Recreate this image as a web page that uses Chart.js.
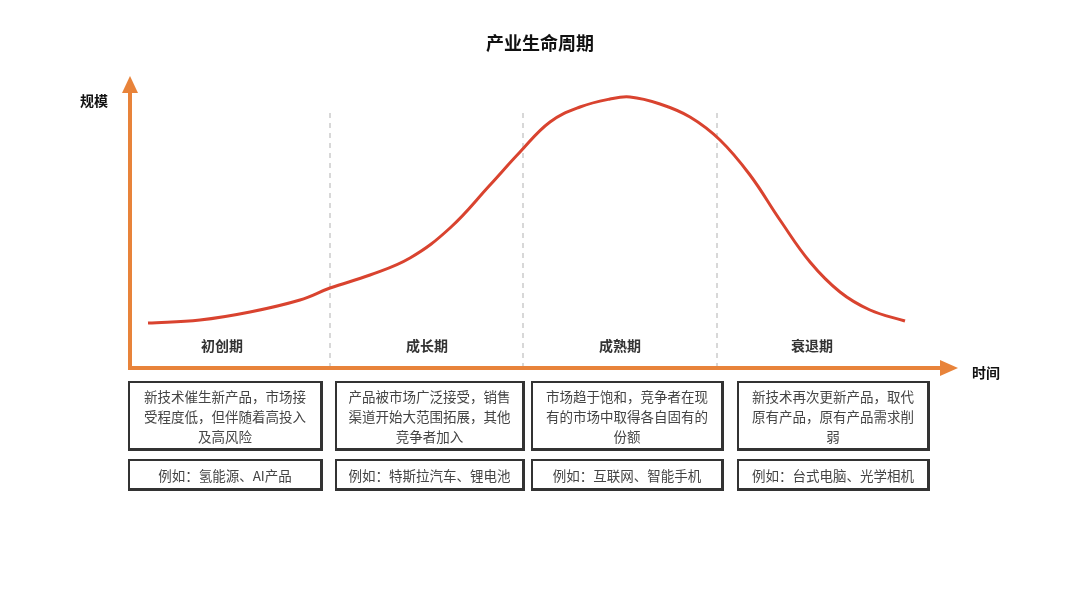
<!DOCTYPE html>
<html><head><meta charset="utf-8">
<script src="https://cdn.jsdelivr.net/npm/chart.js@4"></script>
<style>
  body{margin:0;background:#fff;font-family:"Noto Sans CJK SC",sans-serif;}
  #wrap{position:relative;width:1080px;height:608px;}
  .box{position:absolute;box-sizing:border-box;border:2px solid #333;border-right-width:3px;border-bottom-width:3px;
       color:#444;font-size:13.5px;line-height:20px;text-align:center;display:flex;align-items:center;justify-content:center;padding:0 8px;}
</style></head>
<body><div id="wrap"><canvas id="c" width="1080" height="608"></canvas></div>
<script>
// curve samples: x position along time, y = scale
const curveX = [148,200,250,300,330,370,410,450,490,520,550,580,610,630,660,690,720,750,780,810,840,870,905];
const curveY = [45,48,56,68,80,93,110,140,183,216,246,261,269,271,264,251,228,193,148,106,76,58,47];
const phaseBounds = [330,523,717];
const phaseCenters = [222,427,620,812];
const phaseNames = ['初创期','成长期','成熟期','衰退期'];
const phaseDesc = ['新技术催生新产品，市场接受程度低，但伴随着高投入及高风险','产品被市场广泛接受，销售渠道开始大范围拓展，其他竞争者加入','市场趋于饱和，竞争者在现有的市场中取得各自固有的份额','新技术再次更新产品，取代原有产品，原有产品需求削弱'];
const phaseExample = ['例如：氢能源、AI产品','例如：特斯拉汽车、锂电池','例如：互联网、智能手机','例如：台式电脑、光学相机'];

const boxX = [[128,323],[335,525],[531,724],[737,930]];
const wrap = document.getElementById('wrap');
boxX.forEach((b,i)=>{
  const d = document.createElement('div'); d.className='box';
  d.style.cssText += `left:${b[0]}px;width:${b[1]-b[0]}px;top:381px;height:70px;`;
  d.textContent = phaseDesc[i]; wrap.appendChild(d);
  const e = document.createElement('div'); e.className='box';
  e.style.cssText += `left:${b[0]}px;width:${b[1]-b[0]}px;top:459px;height:32px;`;
  e.textContent = phaseExample[i]; wrap.appendChild(e);
});

const orange = '#e8833a';
const deco = {
  id:'deco',
  beforeDatasetsDraw(ch){
    const {ctx, scales:{x,y}} = ch;
    const x0 = x.getPixelForValue(130), y0 = y.getPixelForValue(0);
    ctx.save();
    ctx.strokeStyle='#ccc'; ctx.lineWidth=1.5; ctx.setLineDash([5,5]);
    phaseBounds.forEach(v=>{const px=x.getPixelForValue(v);ctx.beginPath();ctx.moveTo(px,113);ctx.lineTo(px,y0);ctx.stroke();});
    ctx.setLineDash([]);
    ctx.fillStyle='#333'; ctx.font='bold 14px "Noto Sans CJK SC"'; ctx.textAlign='center'; ctx.textBaseline='middle';
    phaseNames.forEach((n,i)=>ctx.fillText(n,x.getPixelForValue(phaseCenters[i]),346));
    ctx.font='bold 18px "Noto Sans CJK SC"'; ctx.fillStyle='#111';
    ctx.fillText('产业生命周期',540,43);
    ctx.font='bold 14px "Noto Sans CJK SC"';
    ctx.fillText('规模',94,101); ctx.fillText('时间',986,373);
    // axes
    ctx.strokeStyle=orange; ctx.fillStyle=orange; ctx.lineWidth=4;
    ctx.beginPath(); ctx.moveTo(x0,y0); ctx.lineTo(x0,88); ctx.stroke();
    ctx.beginPath(); ctx.moveTo(x0-2,y0); ctx.lineTo(945,y0); ctx.stroke();
    ctx.beginPath(); ctx.moveTo(x0,76); ctx.lineTo(x0-8,93); ctx.lineTo(x0+8,93); ctx.fill();
    ctx.beginPath(); ctx.moveTo(958,y0); ctx.lineTo(940,y0-8); ctx.lineTo(940,y0+8); ctx.fill();
    ctx.restore();
  }
};

new Chart(document.getElementById('c'),{
  type:'line',
  data:{datasets:[{data:curveX.map((v,i)=>({x:v,y:curveY[i]})),borderColor:'#d9432f',borderWidth:3,
    pointRadius:0,tension:0.4,fill:false}]},
  options:{responsive:false,animation:false,
    layout:{padding:{left:130,right:135,top:80,bottom:240}},
    plugins:{legend:{display:false},tooltip:{enabled:false}},
    scales:{x:{type:'linear',min:130,max:945,display:false},y:{min:0,max:288,display:false}}},
  plugins:[deco]
});
</script></body></html>
